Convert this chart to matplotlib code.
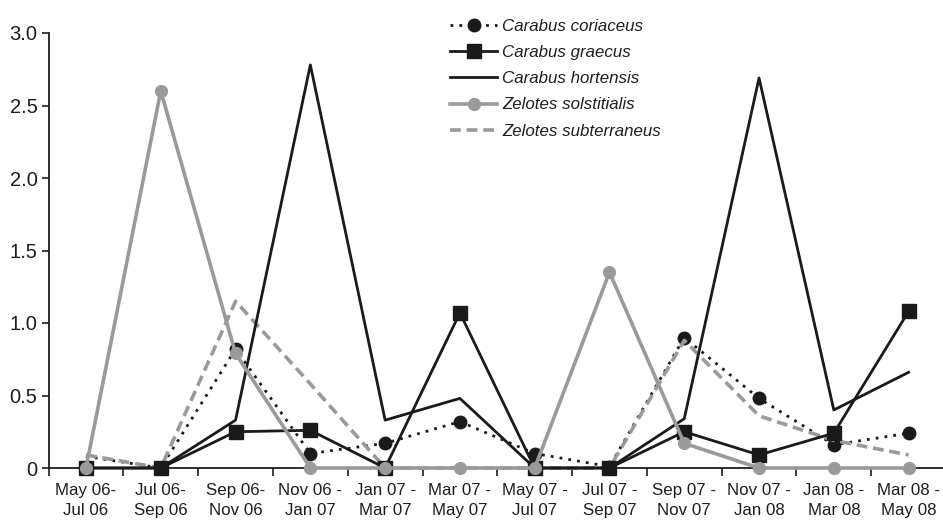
import matplotlib
matplotlib.use("Agg")
import matplotlib.pyplot as plt
import numpy as np

periods = ["May 06-\nJul 06", "Jul 06-\nSep 06", "Sep 06-\nNov 06", "Nov 06 -\nJan 07",
           "Jan 07 -\nMar 07", "Mar 07 -\nMay 07", "May 07 -\nJul 07", "Jul 07 -\nSep 07",
           "Sep 07 -\nNov 07", "Nov 07 -\nJan 08", "Jan 08 -\nMar 08", "Mar 08 -\nMay 08"]

carabus_coriaceus = [0.08, 0.0, 0.82, 0.10, 0.17, 0.32, 0.10, 0.01, 0.90, 0.48, 0.16, 0.24]
carabus_graecus = [0.0, 0.0, 0.25, 0.26, 0.0, 1.07, 0.0, 0.0, 0.25, 0.09, 0.24, 1.08]
carabus_hortensis = [0.0, 0.0, 0.33, 2.78, 0.33, 0.48, 0.0, 0.0, 0.34, 2.69, 0.40, 0.66]
zelotes_solstitialis = [0.0, 2.60, 0.79, 0.0, 0.0, 0.0, 0.0, 1.35, 0.17, 0.0, 0.0, 0.0]
zelotes_subterraneus = [0.09, 0.0, 1.15, 0.58, 0.0, 0.0, 0.0, 0.0, 0.88, 0.36, 0.19, 0.09]

yticks = [0, 0.5, 1.0, 1.5, 2.0, 2.5, 3.0]
ytick_labels = ["0", "0.5", "1.0", "1.5", "2.0", "2.5", "3.0"]

plt.rcParams['font.family'] = ['Liberation Sans', 'DejaVu Sans']
TXT = "#1e1e1e"
GRAY = "#9a9a9c"

fig = plt.figure(figsize=(9.43, 5.2), dpi=100)
W, H = 943, 520
x0, x1 = 48.6, 946.0
ytop, ybot = 33.0, 468.0
ax = fig.add_axes([x0 / W, (H - ybot) / H, (x1 - x0) / W, (ybot - ytop) / H])

x = np.arange(len(periods))

l_sub, = ax.plot(x, zelotes_subterraneus, color=GRAY, lw=2.6, ls=(0, (3, 1.6)),
                 label="Zelotes subterraneus", zorder=3, clip_on=False)
l_hor, = ax.plot(x, carabus_hortensis, color="#1a1a1a", lw=2.0,
                 label="Carabus hortensis", zorder=4, clip_on=False)
l_gra, = ax.plot(x, carabus_graecus, color="#1a1a1a", lw=2.0, marker="s", ms=10,
                 label="Carabus graecus", zorder=5, clip_on=False)
l_cor, = ax.plot(x, carabus_coriaceus, color="#1a1a1a", lw=2.0, ls=(0, (1, 2.2)),
                 marker="o", ms=9, markevery=list(range(1, len(x))),
                 label="Carabus coriaceus", zorder=2, clip_on=False)
l_sol, = ax.plot(x, zelotes_solstitialis, color=GRAY, lw=2.6, marker="o", ms=8.5,
                 mfc=GRAY, mec=GRAY, label="Zelotes solstitialis", zorder=6, clip_on=False)

ax.set_xlim(-0.5, len(periods) - 0.5)
ax.set_ylim(0, 3.0)

ax.set_yticks(yticks)
ax.set_yticklabels(ytick_labels, fontsize=14.5, color=TXT)
ax.tick_params(axis="y", direction="out", length=5, width=1.2, pad=3, color=TXT)

ax.set_xticks(np.arange(-0.5, len(periods), 1.0))
ax.set_xticklabels([])
ax.tick_params(axis="x", which="major", direction="out", length=6, width=1.2, color=TXT)
ax.set_xticks(x, minor=True)
ax.set_xticklabels(periods, minor=True, fontsize=12.2, color=TXT, linespacing=1.45)
ax.tick_params(axis="x", which="minor", length=0, pad=10.5)

for s in ["top", "right"]:
    ax.spines[s].set_visible(False)
for s in ["left", "bottom"]:
    ax.spines[s].set_linewidth(1.3)
    ax.spines[s].set_color(TXT)

leg = ax.legend([l_cor, l_gra, l_hor, l_sol, l_sub],
                [h.get_label() for h in [l_cor, l_gra, l_hor, l_sol, l_sub]],
                loc="upper left", bbox_to_anchor=((443 - x0) / (x1 - x0), 1.048),
                frameon=False, handlelength=2.8, handletextpad=0.3,
                labelspacing=0.66, borderaxespad=0,
                prop={"style": "italic", "size": 12.2})
for t in leg.get_texts():
    t.set_color(TXT)

fig.savefig("out.png", dpi=100)
